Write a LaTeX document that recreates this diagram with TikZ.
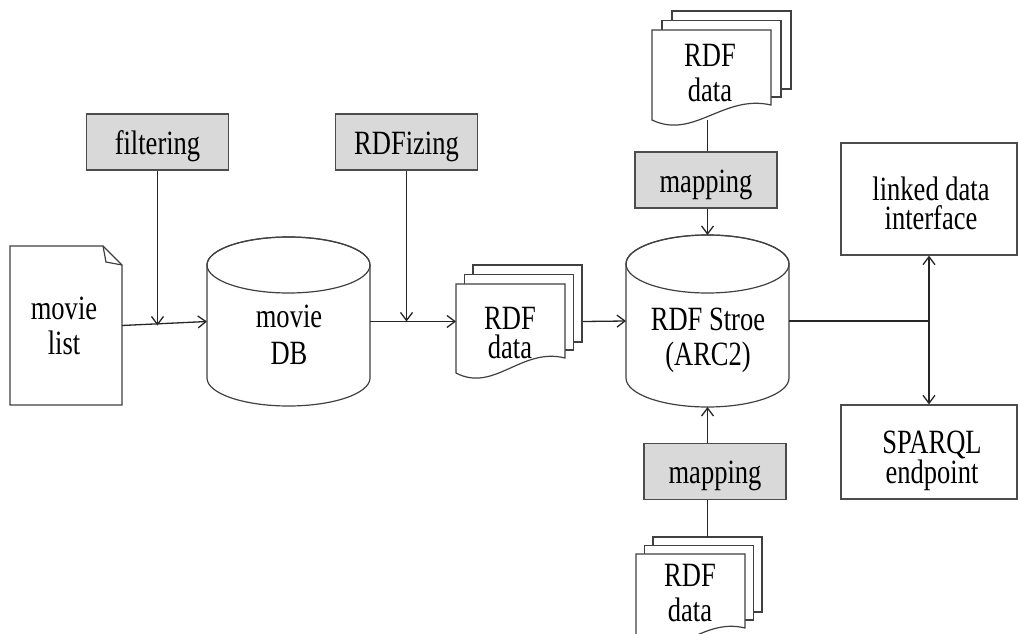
\documentclass[tikz,border=0pt]{standalone}
\usepackage{fontspec}
\setmainfont{Liberation Serif}[FakeStretch=0.78]
\usetikzlibrary{arrows.meta,calc}
\newcommand\rdfstack[6]{%
  \draw[ln,fill=white] ({#1+2*#5},{#2-2*#6}) rectangle ({#1+#3+2*#5},{#2+#4-31});
  \draw[ln,fill=white] ({#1+#5},{#2-#6}) rectangle ({#1+#3+#5},{#2+#4-23});
  \draw[ln,fill=white] (#1,#2) -- ({#1+#3},#2) -- ({#1+#3},{#2+#4-15})
    .. controls ({#1+0.6*#3},{#2+#4-26}) and ({#1+0.35*#3},{#2+#4+20}) .. (#1,{#2+#4}) -- cycle;
}
\begin{document}
\begin{tikzpicture}[x=1pt,y=-1pt,
  ln/.style={draw=black!75, line width=1.2pt},
  conn/.style={draw=black!85, line width=1.3pt},
  arr/.style={conn, -{Straight Barb[length=8pt,width=12pt,line width=1.3pt]}},
  txt/.style={font=\fontsize{34}{27}\selectfont},
  procbox/.style={txt, draw=black!70, line width=1.2pt, fill=black!15, minimum width=142pt,
     minimum height=56pt, inner sep=0pt, text height=30pt, text depth=6pt},
  outbox/.style={draw=black!70, line width=1.2pt, fill=white, minimum width=176pt, inner sep=0pt},
  area/.style={inner sep=0pt, outer sep=0pt},
  lbl/.style={txt, align=center, inner sep=0pt}
]
\useasboundingbox (0,0) rectangle (1018,634);

% ---------- movie list (document) ----------
\node[area, minimum width=112pt, minimum height=159pt] (movielist) at (66,325.5) {};
\draw[ln, fill=white] (10,246) -- (103,246) -- (122,265) -- (122,405) -- (10,405) -- cycle;
\draw[ln] (103,246) -- (106,262) -- (122,265);
\node[lbl, font=\fontsize{34}{35}\selectfont] (movielisttext) at (64,326) {movie\\list};

% ---------- movie DB (cylinder) ----------
\node[area, minimum width=163pt, minimum height=169pt] (moviedb) at (288.5,321.5) {};
\draw[ln, fill=white] (207,265) -- (207,378)
   arc[start angle=180, end angle=360, x radius=81.5pt, y radius=28pt] -- (370,265)
   arc[start angle=0, end angle=180, x radius=81.5pt, y radius=28pt] -- cycle;
\draw[ln] (288.5,265) ellipse[x radius=81.5pt, y radius=28pt];
\node[lbl, font=\fontsize{34}{37}\selectfont] (moviedbtext) at (289,335) {movie\\DB};

% ---------- RDF Store (cylinder) ----------
\node[area, minimum width=163pt, minimum height=172pt] (store) at (707.5,321) {};
\draw[ln, fill=white] (626,264) -- (626,378)
   arc[start angle=180, end angle=360, x radius=81.5pt, y radius=29pt] -- (789,264)
   arc[start angle=0, end angle=180, x radius=81.5pt, y radius=29pt] -- cycle;
\draw[ln] (707.5,264) ellipse[x radius=81.5pt, y radius=29pt];
\node[lbl, font=\fontsize{34}{35}\selectfont] (storetext) at (708,340) {RDF Stroe\\(ARC2)};

% ---------- RDF data stacks ----------
\node[area, minimum width=127pt, minimum height=113pt] (rdfmid) at (519.5,321.5) {};
\rdfstack{456}{284}{109}{89}{8.5}{9.5}
\node[lbl, font=\fontsize{34}{29}\selectfont] (rdfmidtext) at (510,333) {RDF\\data};

\node[area, minimum width=137pt, minimum height=109pt] (topstack) at (720.5,65.5) {};
\rdfstack{652}{30}{119}{90}{10}{9.5}
\node[lbl, font=\fontsize{34}{35}\selectfont] (topstacktext) at (710,73) {RDF\\data};

\node[area, minimum width=126pt, minimum height=106pt] (botstack) at (699,590) {};
\rdfstack{636}{554}{109}{89}{8.5}{8.5}
\node[lbl, font=\fontsize{34}{35}\selectfont] (botstacktext) at (690,593) {RDF\\data};

% ---------- process boxes ----------
\node[procbox] (filtering) at (157.5,142) {filtering};
\node[procbox] (rdfizing) at (406.5,142) {RDFizing};
\node[procbox] (mapping1) at (706,180) {mapping};
\node[procbox] (mapping2) at (715,471.5) {mapping};

% ---------- output boxes ----------
\node[outbox, minimum height=112pt] (linked) at (929,199) {};
\node[lbl, font=\fontsize{34}{29}\selectfont] (linkedtext) at (931,203) {linked data\\interface};
\node[outbox, minimum height=94pt] (sparql) at (929,452) {};
\node[lbl, font=\fontsize{34}{28}\selectfont] (sparqltext) at (932,461) {SPARQL\\endpoint};

% ---------- connectors ----------
\draw[arr] (movielist.east) -- (moviedb.west);
\draw[arr] (filtering.south) -- (filtering.south |- movielist.east);
\draw[arr] (moviedb.east) -- (rdfmid.west);
\draw[arr] (rdfizing.south) -- (rdfizing.south |- moviedb.east);
\draw[arr] (rdfmid.east) -- (store.west);

\draw[conn] (store.north |- topstack.south) -- (store.north |- mapping1.north);
\draw[arr] (store.north |- mapping1.south) -- (store.north);
\draw[conn] (store.south |- botstack.north) -- (store.south |- mapping2.south);
\draw[arr] (store.south |- mapping2.north) -- (store.south);

\coordinate (j) at (linked.south |- store.east);
\draw[conn] (store.east) -- (j);
\draw[arr] (j) -- (linked.south);
\draw[arr] (j) -- (sparql.north);
\end{tikzpicture}
\end{document}
